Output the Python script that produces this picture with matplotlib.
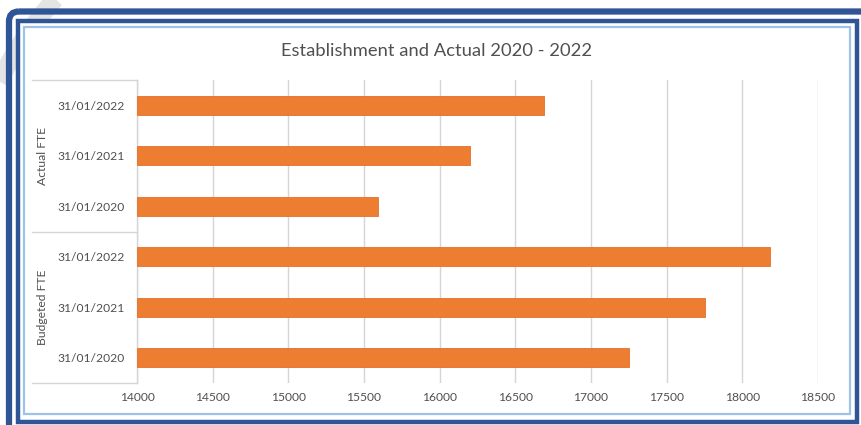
import matplotlib
matplotlib.use("Agg")
from matplotlib import pyplot as plt
from matplotlib.patches import FancyBboxPatch, Rectangle
import numpy as np

# data (bottom row first)
grupos = ["Budgeted FTE", "Actual FTE"]
fechas = ["31/01/2020", "31/01/2021", "31/01/2022"]
budgeted = [17250, 17750, 18185]
actual = [15590, 16200, 16690]
x_ticks = [14000, 14500, 15000, 15500, 16000, 16500, 17000, 17500, 18000, 18500]
titulo = "Establishment and Actual 2020 - 2022"

naranja = "#ED7D31"
gris_txt = "#505050"
gris_lin = "#D5D5D5"
azul = "#2F5597"
azul_claro = "#9DC3E6"

W, H = 861, 425
plt.rcParams["font.family"] = ["Lato", "DejaVu Sans"]
fig = plt.figure(figsize=(W / 100, H / 100), dpi=100)
fig.patch.set_facecolor("white")

# background axes in pixel coordinates for the frame decoration
bg = fig.add_axes([0, 0, 1, 1], zorder=0)
bg.set_xlim(0, W)
bg.set_ylim(H, 0)
bg.axis("off")

# grey swoosh in the corner (behind the border)
t = np.linspace(np.pi, 1.5 * np.pi, 200)
bg.plot(320 + 358 * np.cos(t), 240 + 358 * np.sin(t), color="#E4E4E4", lw=13,
        solid_capstyle="butt", zorder=0.5)

# double blue border
bg.add_patch(FancyBboxPatch((9, 11.5), 880, 450, boxstyle="round,pad=0,rounding_size=10",
                            fill=False, ec=azul, lw=4.5, zorder=1))
bg.add_patch(Rectangle((17.5, 20.5), 839.5, 401.5, fc="white", ec=azul, lw=3.2, zorder=1))
bg.add_patch(Rectangle((24, 26.5), 826, 387.5, fc="white", ec=azul_claro, lw=1.6, zorder=1))

# chart area
ax = fig.add_axes([137 / W, 42 / H, (818 - 137) / W, (383 - 80) / H], zorder=1)
ax.patch.set_alpha(0)

valores = budgeted + actual
etiquetas = fechas + fechas
pos = np.arange(len(valores))
ax.barh(pos, [v - x_ticks[0] for v in valores], left=x_ticks[0], height=0.37,
        color=naranja, edgecolor="#E2702A", linewidth=0.6, zorder=3)

ax.set_xlim(x_ticks[0], x_ticks[-1])
ax.set_ylim(-0.5, len(valores) - 0.5)
ax.set_xticks(x_ticks)
ax.set_xticklabels([str(x) for x in x_ticks])
ax.set_yticks(pos)
ax.set_yticklabels(etiquetas)
ax.tick_params(axis="both", length=0, colors=gris_txt, labelsize=8.7)
ax.tick_params(axis="y", pad=9)
ax.tick_params(axis="x", pad=6.5)
ax.grid(axis="x", color=gris_lin, lw=1, zorder=0)
for s in ["top", "right", "bottom"]:
    ax.spines[s].set_visible(False)
ax.spines["left"].set_color(gris_lin)
ax.spines["left"].set_linewidth(1)

# group separators and group labels
trans = ax.get_yaxis_transform()
x_izq = (32 - 137) / (818 - 137)
for y in [-0.5, 2.5, 5.5]:
    ax.plot([x_izq, 0], [y, y], color=gris_lin, lw=1, transform=trans, clip_on=False)
x_grp = (43 - 137) / (818 - 137)
for i, g in enumerate(grupos):
    ax.text(x_grp, 3 * i + 1, g, rotation=90, ha="center", va="center",
            fontsize=8.7, color=gris_txt, transform=trans)

fig.text(437 / W, 1 - 51 / H, titulo, ha="center", va="center", fontsize=13.2, color=gris_txt)

plt.savefig("out.png", dpi=100)
